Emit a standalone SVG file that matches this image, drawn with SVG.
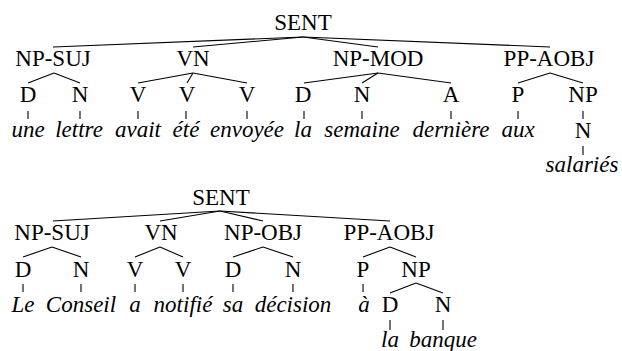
<svg xmlns="http://www.w3.org/2000/svg" width="622" height="351" viewBox="0 0 622 351">
<rect width="622" height="351" fill="#fff"/>
<g id="connectors" stroke="#000" stroke-width="1.1">
<line x1="303" y1="37" x2="53" y2="47"/><line x1="303" y1="37" x2="193" y2="47"/><line x1="303" y1="37" x2="378" y2="47"/><line x1="303" y1="37" x2="550" y2="47"/>
<line x1="54" y1="73" x2="28" y2="83"/><line x1="54" y1="73" x2="80" y2="83"/>
<line x1="193" y1="73" x2="138" y2="83"/><line x1="193" y1="73" x2="187" y2="83"/><line x1="193" y1="73" x2="247" y2="83"/>
<line x1="378" y1="73" x2="304" y2="83"/><line x1="378" y1="73" x2="362" y2="83"/><line x1="378" y1="73" x2="451" y2="83"/>
<line x1="550" y1="73" x2="518" y2="83"/><line x1="550" y1="73" x2="583" y2="83"/>
<line x1="28" y1="111" x2="28" y2="119"/><line x1="80" y1="111" x2="80" y2="119"/><line x1="138" y1="111" x2="138" y2="119"/><line x1="186" y1="111" x2="186" y2="119"/><line x1="247" y1="111" x2="247" y2="119"/><line x1="304" y1="111" x2="304" y2="119"/><line x1="362" y1="111" x2="362" y2="119"/><line x1="451" y1="111" x2="451" y2="119"/><line x1="518" y1="111" x2="518" y2="119"/><line x1="583" y1="111" x2="583" y2="119"/>
<line x1="583" y1="146" x2="583" y2="155"/>
<line x1="220" y1="211" x2="53" y2="221"/><line x1="220" y1="211" x2="160" y2="221"/><line x1="220" y1="211" x2="263" y2="221"/><line x1="220" y1="211" x2="390" y2="221"/>
<line x1="52" y1="247" x2="23" y2="257"/><line x1="52" y1="247" x2="81" y2="257"/>
<line x1="160" y1="247" x2="135" y2="257"/><line x1="160" y1="247" x2="183" y2="257"/>
<line x1="263" y1="247" x2="233" y2="257"/><line x1="263" y1="247" x2="293" y2="257"/>
<line x1="390" y1="247" x2="363" y2="257"/><line x1="390" y1="247" x2="416" y2="257"/>
<line x1="416" y1="283" x2="390" y2="293"/><line x1="416" y1="283" x2="443" y2="293"/>
<line x1="23" y1="284" x2="23" y2="292"/><line x1="81" y1="284" x2="81" y2="292"/><line x1="135" y1="284" x2="135" y2="292"/><line x1="183" y1="284" x2="183" y2="292"/><line x1="233" y1="284" x2="233" y2="292"/><line x1="293" y1="284" x2="293" y2="292"/><line x1="363" y1="284" x2="363" y2="292"/>
<line x1="390" y1="320" x2="390" y2="330"/><line x1="443" y1="320" x2="443" y2="330"/>
</g>
<g id="t1-SENT"><text x="303" y="30" font-family="Liberation Serif" font-size="23" text-anchor="middle">SENT</text></g>
<g id="t1-NP-SUJ"><text x="53" y="66" font-family="Liberation Serif" font-size="23" text-anchor="middle">NP-SUJ</text></g>
<g id="t1-VN"><text x="193" y="66" font-family="Liberation Serif" font-size="23" text-anchor="middle">VN</text></g>
<g id="t1-NP-MOD"><text x="378" y="66" font-family="Liberation Serif" font-size="23" text-anchor="middle">NP-MOD</text></g>
<g id="t1-PP-AOBJ"><text x="549" y="66" font-family="Liberation Serif" font-size="23" text-anchor="middle">PP-AOBJ</text></g>
<g id="t1-D1"><text x="28" y="102" font-family="Liberation Serif" font-size="23" text-anchor="middle">D</text></g>
<g id="t1-N1"><text x="80" y="102" font-family="Liberation Serif" font-size="23" text-anchor="middle">N</text></g>
<g id="t1-V1"><text x="138" y="102" font-family="Liberation Serif" font-size="23" text-anchor="middle">V</text></g>
<g id="t1-V2"><text x="187" y="102" font-family="Liberation Serif" font-size="23" text-anchor="middle">V</text></g>
<g id="t1-V3"><text x="247" y="102" font-family="Liberation Serif" font-size="23" text-anchor="middle">V</text></g>
<g id="t1-D2"><text x="303" y="102" font-family="Liberation Serif" font-size="23" text-anchor="middle">D</text></g>
<g id="t1-N2"><text x="362" y="102" font-family="Liberation Serif" font-size="23" text-anchor="middle">N</text></g>
<g id="t1-A"><text x="451" y="102" font-family="Liberation Serif" font-size="23" text-anchor="middle">A</text></g>
<g id="t1-P"><text x="518" y="102" font-family="Liberation Serif" font-size="23" text-anchor="middle">P</text></g>
<g id="t1-NP"><text x="583" y="102" font-family="Liberation Serif" font-size="23" text-anchor="middle">NP</text></g>
<g id="t1-N3"><text x="583" y="138" font-family="Liberation Serif" font-size="23" text-anchor="middle">N</text></g>
<g id="t1-words">
<text x="28" y="137" font-family="Liberation Serif" font-size="23" font-style="italic" text-anchor="middle">une</text>
<text x="79" y="137" font-family="Liberation Serif" font-size="23" font-style="italic" text-anchor="middle">lettre</text>
<text x="138" y="137" font-family="Liberation Serif" font-size="23" font-style="italic" text-anchor="middle">avait</text>
<text x="186" y="137" font-family="Liberation Serif" font-size="23" font-style="italic" text-anchor="middle">été</text>
<text x="247" y="137" font-family="Liberation Serif" font-size="23" font-style="italic" text-anchor="middle">envoyée</text>
<text x="303" y="137" font-family="Liberation Serif" font-size="23" font-style="italic" text-anchor="middle">la</text>
<text x="362" y="137" font-family="Liberation Serif" font-size="23" font-style="italic" text-anchor="middle">semaine</text>
<text x="451" y="137" font-family="Liberation Serif" font-size="23" font-style="italic" text-anchor="middle">dernière</text>
<text x="518" y="137" font-family="Liberation Serif" font-size="23" font-style="italic" text-anchor="middle">aux</text>
<text x="582" y="172" font-family="Liberation Serif" font-size="23" font-style="italic" text-anchor="middle">salariés</text>
</g>
<g id="t2-SENT"><text x="221" y="205" font-family="Liberation Serif" font-size="23" text-anchor="middle">SENT</text></g>
<g id="t2-NP-SUJ"><text x="52" y="240" font-family="Liberation Serif" font-size="23" text-anchor="middle">NP-SUJ</text></g>
<g id="t2-VN"><text x="161" y="240" font-family="Liberation Serif" font-size="23" text-anchor="middle">VN</text></g>
<g id="t2-NP-OBJ"><text x="263" y="240" font-family="Liberation Serif" font-size="23" text-anchor="middle">NP-OBJ</text></g>
<g id="t2-PP-AOBJ"><text x="389" y="240" font-family="Liberation Serif" font-size="23" text-anchor="middle">PP-AOBJ</text></g>
<g id="t2-D1"><text x="23" y="277" font-family="Liberation Serif" font-size="23" text-anchor="middle">D</text></g>
<g id="t2-N1"><text x="81" y="277" font-family="Liberation Serif" font-size="23" text-anchor="middle">N</text></g>
<g id="t2-V1"><text x="135" y="277" font-family="Liberation Serif" font-size="23" text-anchor="middle">V</text></g>
<g id="t2-V2"><text x="183" y="277" font-family="Liberation Serif" font-size="23" text-anchor="middle">V</text></g>
<g id="t2-D2"><text x="233" y="277" font-family="Liberation Serif" font-size="23" text-anchor="middle">D</text></g>
<g id="t2-N2"><text x="293" y="277" font-family="Liberation Serif" font-size="23" text-anchor="middle">N</text></g>
<g id="t2-P"><text x="363" y="277" font-family="Liberation Serif" font-size="23" text-anchor="middle">P</text></g>
<g id="t2-NP"><text x="416" y="277" font-family="Liberation Serif" font-size="23" text-anchor="middle">NP</text></g>
<g id="t2-D3"><text x="390" y="312" font-family="Liberation Serif" font-size="23" text-anchor="middle">D</text></g>
<g id="t2-N3"><text x="443" y="312" font-family="Liberation Serif" font-size="23" text-anchor="middle">N</text></g>
<g id="t2-words">
<text x="23" y="312" font-family="Liberation Serif" font-size="23" font-style="italic" text-anchor="middle">Le</text>
<text x="81" y="312" font-family="Liberation Serif" font-size="23" font-style="italic" text-anchor="middle">Conseil</text>
<text x="135" y="312" font-family="Liberation Serif" font-size="23" font-style="italic" text-anchor="middle">a</text>
<text x="183" y="312" font-family="Liberation Serif" font-size="23" font-style="italic" text-anchor="middle">notifié</text>
<text x="233" y="312" font-family="Liberation Serif" font-size="23" font-style="italic" text-anchor="middle">sa</text>
<text x="293" y="312" font-family="Liberation Serif" font-size="23" font-style="italic" text-anchor="middle">décision</text>
<text x="364" y="312" font-family="Liberation Serif" font-size="23" font-style="italic" text-anchor="middle">à</text>
<text x="390" y="347" font-family="Liberation Serif" font-size="23" font-style="italic" text-anchor="middle">la</text>
<text x="443" y="347" font-family="Liberation Serif" font-size="23" font-style="italic" text-anchor="middle">banque</text>
</g>
</svg>
